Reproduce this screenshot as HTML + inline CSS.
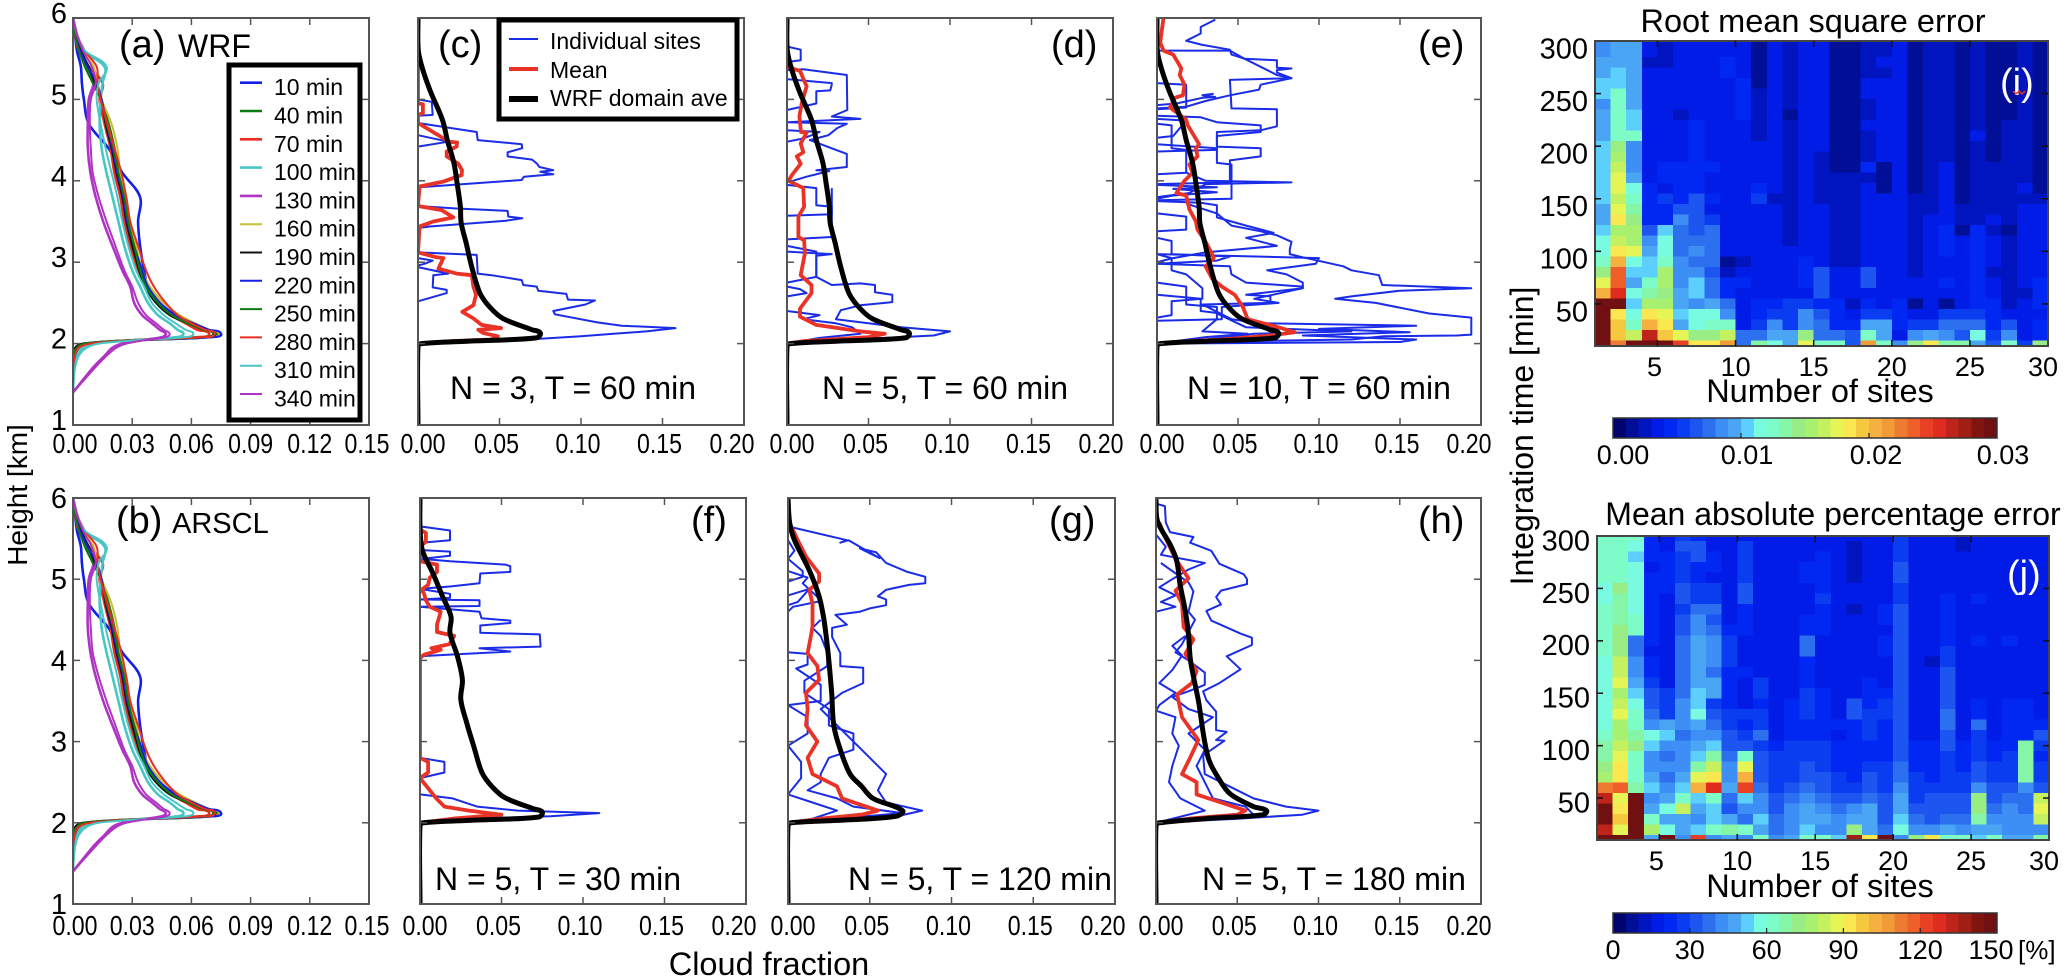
<!DOCTYPE html>
<html lang="en">
<head>
<meta charset="utf-8">
<title>Cloud fraction profiles and sampling error</title>
<style>
html,body{margin:0;padding:0;background:#fff;}
svg{display:block;font-family:"Liberation Sans",sans-serif;}
</style>
</head>
<body>
<svg id="fig" xmlns="http://www.w3.org/2000/svg" width="2067" height="978" viewBox="0 0 2067 978">
<rect x="0" y="0" width="2067" height="978" fill="#fff"/>
<defs id="defs"></defs>
<text transform="translate(27,495) rotate(-90)" text-anchor="middle" font-size="28">Height [km]</text>
<text x="769" y="975" text-anchor="middle" font-size="32.5">Cloud fraction</text>
<text transform="translate(1533,436) rotate(-90)" text-anchor="middle" font-size="32">Integration time [min]</text>
<text x="1813" y="32" text-anchor="middle" font-size="32.5">Root mean square error</text>
<text x="1833" y="525" text-anchor="middle" font-size="32">Mean absolute percentage error</text>
<text x="1820" y="402" text-anchor="middle" font-size="32.5">Number of sites</text>
<text x="1820" y="897" text-anchor="middle" font-size="32.5">Number of sites</text>
<g id="plots"></g>
</svg>
<script>
/* ---------- panel (a)/(b): time-series of domain-mean profiles ---------- */
const profileHeights=[6,5.8,5.6,5.4,5.2,5,4.7,4.4,4.1,3.8,3.5,3.2,2.9,2.7,2.5,2.35,2.25,2.17,2.12,2.08,2.04,2,1.95,1.85,1.7,1.4];
const profile10=[0,.001,.002,.004,.0045,.0055,.008,.018,.025,.034,.033,.034,.036,.038,.044,.052,.06,.068,.075,.07,.03,.006,.002,0,0,0];
const profile40=[0,.0015,.0045,.007,.011,.014,.018,.021,.023,.0255,.028,.031,.035,.038,.044,.051,.059,.067,.073,.069,.03,.006,.002,0,0,0];
const profile70=[0,.001,.003,.008,.015,.0135,.016,.019,.021,.024,.026,.029,.033,.037,.044,.05,.057,.063,.069,.064,.03,.008,.003,.001,0,0];
const profile100=[0,.002,.005,.016,.015,.014,.0135,.0145,.017,.02,.023,.026,.03,.034,.038,.043,.049,.053,.056,.053,.03,.01,.005,.002,.0005,0];
const profile130=[0,.002,.005,.01,.0105,.008,.0075,.0075,.0088,.0115,.0153,.02,.025,.029,.031,.035,.04,.044,.047,.045,.034,.025,.02,.016,.01,0];
const profile160=[0,.0015,.005,.0105,.012,.0145,.0195,.0225,.024,.027,.029,.032,.035,.039,.046,.054,.062,.069,.074,.069,.03,.006,.002,0,0,0];
const profile190=[0,.0015,.004,.008,.011,.0145,.0165,.0195,.022,.025,.027,.03,.0335,.0365,.042,.049,.058,.066,.072,.068,.03,.005,.001,0,0,0];
const profile220=[0,.0012,.0035,.0075,.012,.0145,.017,.02,.0225,.0255,.0275,.031,.035,.038,.044,.052,.061,.069,.075,.07,.032,.007,.003,.001,0,0];
const profile250=[0,.001,.003,.006,.01,.014,.017,.0205,.023,.026,.028,.031,.034,.037,.043,.05,.058,.066,.071,.066,.028,.006,.002,0,0,0];
const profile280=[0,.002,.006,.012,.0125,.014,.0175,.021,.0245,.027,.029,.033,.037,.041,.047,.053,.06,.067,.072,.066,.03,.009,.003,.001,0,0];
const profile310=[0,.002,.006,.017,.013,.012,.014,.0165,.0195,.0225,.025,.028,.032,.036,.04,.046,.052,.057,.061,.057,.032,.013,.007,.003,.001,0];
const profile340=[0,.002,.005,.0095,.0115,.009,.0085,.009,.01,.013,.017,.0215,.026,.03,.033,.037,.042,.046,.049,.047,.036,.027,.022,.017,.011,0];
const profileLabels=["10 min","40 min","70 min","100 min","130 min","160 min","190 min","220 min","250 min","280 min","310 min","340 min"];
const profileSeries=[profile10,profile40,profile70,profile100,profile130,profile160,profile190,profile220,profile250,profile280,profile310,profile340];

/* ---------- domain-average curves, [height, fraction] ---------- */
const domainT60=[[6,0],[5.6,.0002],[5.36,.003],[5.08,.008],[4.75,.015],[4.5,.018],[4.22,.022],[3.97,.024],[3.68,.026],[3.48,.0265],[3.24,.0295],[2.94,.033],[2.62,.038],[2.45,.044],[2.31,.052],[2.17,.07],[2.13,.075],[2.07,.0725],[2.03,.03],[2,.002],[1.97,0],[1,0]];
const domainT30=[[6,0],[5.65,0],[5.36,.0014],[5.07,.008],[4.79,.0138],[4.54,.019],[4.34,.0184],[4.05,.023],[3.76,.026],[3.52,.025],[3.24,.0285],[2.94,.033],[2.62,.038],[2.45,.044],[2.31,.052],[2.17,.07],[2.13,.075],[2.07,.0725],[2.03,.03],[2,.002],[1.97,0],[1,0]];
const domainT120=[[6,0],[5.7,.001],[5.48,.004],[5.11,.013],[4.79,.019],[4.5,.022],[4.09,.0245],[3.6,.0267],[3.2,.028],[2.9,.032],[2.6,.038],[2.45,.045],[2.3,.052],[2.15,.07],[2.08,.066],[2.03,.03],[2,.002],[1.97,0],[1,0]];
const domainT180=[[6,0],[5.76,.0004],[5.64,.0025],[5.43,.0086],[5.23,.0127],[4.94,.0148],[4.61,.018],[4.32,.02],[3.99,.0213],[3.51,.026],[2.81,.032],[2.5,.04],[2.35,.046],[2.2,.06],[2.15,.068],[2.1,.066],[2.05,.03],[2,.002],[1.97,0],[1,0]];

/* ---------- individual sites and site mean per panel, [height, fraction] ---------- */
const sitesC=[
[[6,0],[1,0]],
[[5,0],[4.97,.0084],[4.81,.009],[4.8,0]],
[[4.71,0],[4.6,.036],[4.5,.0366],[4.45,.0636],[4.4,.064],[4.35,.055],[4.3,.055],[4.26,.07],[4.21,.073],[4.17,.0745],[4.13,.083],[4.11,.075],[4.08,.083],[4.05,.065],[4.01,.0636],[3.92,.001]],
[[4.56,0],[4.48,.0186],[4.42,0]],
[[3.69,0],[3.66,.0237],[3.63,.055],[3.56,.0554],[3.54,.064],[3.51,.054],[3.43,.001],[3.44,.008],[3.42,0]],
[[3.12,0],[3.09,.036],[2.86,.0366],[2.84,.045],[2.78,.0636],[2.72,.0646],[2.7,.0728],[2.65,.0738],[2.61,.091],[2.54,.092],[2.53,.1086],[2.48,.1027],[2.4,.083],[2.36,.084],[2.26,.11],[2.22,.125],[2.19,.158],[2.15,.14],[2.12,.12],[2.09,.1],[2.04,.06],[2.02,.01],[2,0]],
[[3.05,0],[3.02,.009],[2.98,.004],[2.96,0]],
[[2.94,0],[2.86,.0186],[2.84,.0094],[2.69,.009],[2.66,.0176],[2.62,.0176],[2.52,0]]
];
const meanC=[[5.5,0],[4.95,0],[4.94,.003],[4.83,.003],[4.81,0],[4.71,0],[4.56,.0125],[4.48,.0186],[4.47,.024],[4.42,.0237],[4.36,.0176],[4.3,.0176],[4.21,.0247],[4.13,.027],[4.07,.0268],[3.99,.0155],[3.93,.001],[3.69,0],[3.64,.0145],[3.55,.0217],[3.5,.0094],[3.44,.001],[3.12,0],[3.06,.0115],[3.05,.0155],[2.92,.0125],[2.86,.0237],[2.84,.033],[2.7,.034],[2.6,.0356],[2.47,.034],[2.39,.0272],[2.31,.034],[2.23,.039],[2.19,.051],[2.17,.037],[2.13,.04],[2.09,.049],[2.05,.045],[2.03,.02],[2,.002]];

const sitesD=[
[[6,0],[1,0]],
[[5.65,0],[5.61,.0084],[5.48,.0084],[5.46,0]],
[[5.36,0],[5.37,.01],[5.3,.0367],[4.87,.037],[4.79,.0275],[4.76,.045],[4.72,.0],[4.7,.0367],[4.65,.031],[4.56,.0254],[4.5,.014],[4.33,.0367],[4.17,.0367],[4.13,.018],[4.12,.026],[4.05,.012],[3.99,.002]],
[[5.18,.0275],[5.11,.0265],[5.1,.018],[4.95,.018],[4.87,0]],
[[5.25,0],[5.2,.0275],[5.18,.0275]],
[[4.62,0],[4.6,.02],[4.52,.01],[4.48,0]],
[[3.91,.0275],[3.59,.0275],[3.57,0]],
[[3.95,0],[3.91,.018],[3.7,.018],[3.68,.0275],[3.31,.0275],[3.28,.0],[3.2,0],[3.13,.018],[2.82,.018],[2.72,.0275],[2.74,.045],[2.72,.054],[2.63,.054],[2.6,.0646],[2.51,.0646],[2.47,.045],[2.41,.033],[2.3,.03],[2.25,.05],[2.2,.07],[2.15,.1],[2.1,.09],[2.05,.04],[2,0]],
[[3.13,0],[3.1,.0275],[3.08,.018],[2.82,.018],[2.75,0]],
[[2.7,0],[2.67,.008],[2.62,.012],[2.58,0]],
[[2.4,0],[2.35,.02],[2.3,.01],[2.25,.03],[2.2,.04],[2.12,.045],[2.07,.02],[2,0]]
];
const meanD=[[5.45,0],[5.4,0],[5.35,.008],[5.16,.012],[4.95,.009],[4.79,.0076],[4.6,.0086],[4.59,.012],[4.46,.0084],[4.35,.01],[4.3,.006],[4.21,.0084],[4.07,.003],[4,.001],[3.91,.01],[3.68,.0105],[3.56,.007],[3.31,.007],[3.27,.0105],[3.11,.011],[2.84,.0084],[2.72,.015],[2.62,.015],[2.43,.008],[2.33,.008],[2.23,.018],[2.15,.045],[2.12,.06],[2.08,.05],[2.03,.01],[2,0]];

const sitesE=[
[[6,0],[1,0]],
[[5.98,.036],[5.89,.027],[5.81,.027],[5.72,.018],[5.67,.028],[5.61,.045],[5.55,.046],[5.5,.054],[5.48,.074],[5.39,.074],[5.38,.083],[5.36,.074],[5.33,.074],[5.26,.083],[5.24,.045],[4.89,.046],[4.88,.074],[4.67,.074],[4.62,.064],[4.6,.037],[4.42,.037],[4.4,.064],[4.3,.064],[4.25,.045],[4.1,.045],[3.98,.045],[3.96,0]],
[[5.6,0],[5.6,.045],[5.5,.054],[5.3,.074],[5.26,.083],[5.18,.064],[5.12,.063],[5.05,.045],[4.98,.03],[4.91,.018],[4.89,0]],
[[5.2,0],[5.18,.018],[4.9,.018],[4.88,0],[4.76,0],[4.74,.018],[4.55,.01],[4.53,0]],
[[5.07,.035],[5.05,.028],[5.03,.036],[5.02,.028],[4.95,.012],[4.93,0]],
[[4.8,0],[4.78,.027],[4.72,.037],[4.68,.064],[4.6,.064],[4.55,.037],[4.38,.037],[4.36,0]],
[[4.45,0],[4.4,.037],[4.22,.037],[4.2,.046],[4.12,.046],[3.78,.046],[3.76,0]],
[[4.1,.018],[4,.03],[3.98,.083],[3.96,.03],[3.85,.02],[3.8,0]],
[[4.7,0],[4.68,.009],[4.4,.009],[4.38,.018],[4.1,.018],[4.08,0]],
[[3.95,0],[3.92,.037],[3.9,.01],[3.86,.037],[3.82,.01],[3.78,0]],
[[3.75,0],[3.73,.027],[3.7,.037],[3.55,.037],[3.45,.055],[3.36,.072],[3.3,.055],[3.2,.074],[3.12,.03],[3.05,.01],[3,0]],
[[3.72,.018],[3.6,.037],[3.45,.046],[3.38,.064],[3.33,.074],[3.25,.083],[3.16,.082],[3.1,.082],[3.06,.09],[2.95,.115],[2.9,.12],[2.84,.137],[2.72,.139],[2.68,.194],[2.65,.15],[2.58,.12],[2.55,.11],[2.5,.135],[2.37,.168],[2.32,.194],[2.11,.194],[2.1,.185],[2.09,.14],[2.05,.12],[2.03,.05],[2,0]],
[[3.6,0],[3.56,.018],[3.4,.018],[3.38,.0],[3.3,0],[3.26,.009],[3.1,.009],[3.07,.045],[3.02,.037],[2.98,0]],
[[3.1,0],[3.05,.1],[2.98,.098],[2.9,.068],[2.85,.08],[2.75,.09],[2.68,.09],[2.55,.06],[2.5,.075],[2.45,.04],[2.3,.04],[2.28,0]],
[[3.1,0],[3.05,.009],[2.9,.009],[2.85,.018],[2.68,.028],[2.55,.028],[2.52,.009],[2.35,.009],[2.32,0]],
[[2.98,0],[2.95,.045],[2.85,.046],[2.75,.055],[2.7,.09],[2.68,.09],[2.6,.055],[2.58,.07],[2.5,.07],[2.48,.028],[2.3,.046],[2.25,.065],[2.22,.16],[2.18,.1],[2.14,.156],[2.1,.09],[2.05,.16],[2.02,.15],[2,0]],
[[2.75,0],[2.7,.018],[2.48,.018],[2.45,.037],[2.3,.037],[2.15,.028],[2.12,.056],[2.08,.03],[2,0]],
[[2.6,0],[2.55,.027],[2.4,.027],[2.38,.036],[2.2,.055],[2.15,.12],[2.12,.06],[2.05,.03],[2,0]]
];
const meanE=[[6,.004],[5.7,.002],[5.6,.004],[5.55,.01],[5.45,.013],[5.38,.015],[5.3,.014],[5.18,.017],[5.05,.016],[5.02,.011],[4.9,.008],[4.75,.018],[4.68,.019],[4.45,.026],[4.4,.024],[4.3,.025],[4.2,.02],[4.1,.022],[4,.017],[3.85,.012],[3.82,.018],[3.65,.02],[3.5,.024],[3.4,.025],[3.25,.03],[3.1,.034],[3.05,.035],[2.95,.03],[2.8,.034],[2.7,.04],[2.6,.048],[2.45,.053],[2.3,.056],[2.2,.075],[2.14,.085],[2.1,.07],[2.05,.04],[2.02,.01],[2,0]];

const sitesF=[
[[6,0],[1,0]],
[[5.65,0],[5.6,.0184],[5.48,.0184],[5.45,.001],[5.36,0],[5.34,.0184],[5.29,.0184],[5.25,.001],[5.22,.0184],[5.18,.0524],[5.16,.0554],[5.09,.0554],[5.07,.037],[4.95,.0365],[4.91,.0184],[4.88,0],[4.82,.0184],[4.77,.0184],[4.75,0],[4.74,.0365],[4.67,.0365],[4.66,0],[4.6,.0365],[4.52,.0377],[4.49,.0554],[4.46,.0554],[4.43,.037],[4.34,.037],[4.32,.0735],[4.17,.074],[4.15,.0365],[4.11,.0554],[4.07,.017],[4.05,0]],
[[2.8,0],[2.75,.015],[2.62,.015],[2.55,0]],
[[2.35,0],[2.3,.02],[2.2,.035],[2.15,.06],[2.12,.11],[2.08,.08],[2.05,.03],[2,0]]
];
const meanF=[[5.6,.001],[5.57,.0036],[5.46,.0036],[5.4,0],[5.22,0],[5.18,.0104],[5.09,.0104],[5.02,.006],[4.93,.005],[4.87,.001],[4.82,.0025],[4.74,.0036],[4.66,.006],[4.6,.0127],[4.44,.0104],[4.35,.0104],[4.3,.021],[4.2,.018],[4.15,.007],[4.13,.0127],[4.07,.0025],[4.03,0],[2.8,0],[2.75,.005],[2.62,.005],[2.55,0],[2.3,.01],[2.2,.015],[2.15,.03],[2.1,.05],[2.05,.02],[2,0]];

const sitesG=[
[[6,0],[1,0]],
[[5.65,0],[5.48,.036],[5.45,.032],[5.48,.037],[5.26,.056],[5.38,.044],[5.33,.054],[5.2,.06],[5.09,.073],[5.03,.084],[4.95,.084],[4.93,.074],[4.87,.06],[4.79,.055],[4.75,.06],[4.68,.06],[4.64,.05],[4.6,.044],[4.56,.029],[4.44,.036],[4.4,.027],[4.29,.027],[4.09,.032],[3.93,.032],[3.91,.046],[3.72,.046],[3.6,.033],[3.4,.02],[3,.04],[2.8,.05],[2.6,.06],[2.4,.055],[2.25,.06],[2.15,.082],[2.05,.06],[2,0]],
[[5.48,0],[5.35,.004],[5.25,0],[5.1,.009],[5.03,.009],[4.97,0],[4.8,0],[4.88,.013],[4.72,.006],[4.68,0]],
[[5.1,0],[5.02,.012],[4.95,.009],[4.8,.017],[4.73,.02],[4.66,.003],[4.6,0]],
[[4.1,0],[4.08,.012],[3.95,.012],[3.9,.005],[3.7,.02],[3.5,.02],[3.45,0]],
[[4.5,.02],[4.4,.015],[4.3,.02],[4.1,.024],[3.93,.024],[3.75,.01],[3.6,.01],[3.4,.025],[3.2,.025],[3.1,.04],[2.9,.04],[2.8,.025],[2.6,.02],[2.5,.02],[2.4,.012],[2.3,.03],[2.2,.04],[2.12,.07],[2.05,.03],[2,0]],
[[3.45,0],[3.3,.012],[3.1,.012],[2.95,0],[2.75,.008],[2.55,.008],[2.35,0],[2.25,.015],[2.15,.03],[2.05,.015],[2,0]]
];
const meanG=[[5.65,.002],[5.48,.006],[5.28,.011],[5.07,.019],[4.97,.019],[4.87,.013],[4.7,.015],[4.42,.015],[4.3,.014],[4.09,.012],[3.93,.018],[3.76,.019],[3.6,.011],[3.4,.012],[3.2,.011],[3,.018],[2.8,.012],[2.6,.015],[2.45,.03],[2.3,.033],[2.15,.055],[2.1,.045],[2.05,.02],[2,0]];

const sitesH=[
[[6,0],[1,0]],
[[5.93,0],[5.9,.0055],[5.7,.006],[5.58,.0086],[5.52,.023],[5.45,.021],[5.35,.034],[5.19,.039],[5.06,.054],[5,.056],[4.94,.056],[4.86,.04],[4.78,.037],[4.69,.04],[4.61,.031],[4.49,.034],[4.33,.052],[4.28,.059],[4.19,.059],[4.05,.0435],[3.89,.052],[3.72,.039],[3.62,.029],[3.51,.031],[3.37,.037],[3.14,.037],[3.12,.0435],[3.02,.037],[3.01,.042],[2.83,.029],[2.6,.03],[2.4,.05],[2.3,.06],[2.2,.08],[2.15,.1],[2.1,.09],[2.05,.05],[2,0]],
[[5.55,0],[5.4,.006],[5.3,.003],[5.2,.03],[5.12,.02],[5.0,.01],[4.9,.002],[4.8,.012],[4.72,.003],[4.66,.012],[4.6,0]],
[[5.2,.003],[5.1,.01],[4.96,.02],[4.85,.023],[4.6,.02],[4.5,.024],[4.35,.02],[4.2,.016],[4.1,.012],[4,.02],[3.85,.03],[3.7,.03],[3.62,.02],[3.55,.01],[3.4,.02],[3.3,.035],[3.1,.02],[2.9,.03],[2.7,.025],[2.5,.03],[2.3,.035],[2.2,.055],[2.1,.06],[2.05,.02],[2,0]],
[[4.3,.018],[4.18,.01],[4.06,.016],[3.88,.01],[3.72,.002],[3.6,.012],[3.45,.002],[3.38,.0],[3.3,.012],[3.1,.01],[2.95,.014],[2.7,.01],[2.5,.008],[2.3,.015],[2.15,.03],[2.05,.01],[2,0]]
];
const meanH=[[5.7,.002],[5.5,.006],[5.25,.012],[5.01,.02],[4.86,.012],[4.7,.016],[4.41,.017],[4.26,.023],[4.08,.018],[3.87,.025],[3.72,.022],[3.58,.013],[3.3,.016],[3.02,.026],[2.8,.021],[2.6,.016],[2.5,.025],[2.35,.025],[2.25,.04],[2.15,.055],[2.1,.05],[2.05,.02],[2,0]];

/* ---------- heatmaps: one array per site column, top row (300 min) first ---------- */
const rmseUnit=0.001;
const rmseC0=[8,8,9,9,10,10,8,9,9,9,10,10,10,10,10,10,9,9,10,11,11,12,14,17,20,29,29,29,29,29];
const rmseC1=[9,9,9,10,10,12,12,12,12,12,14,15,16,17,17,16,17,18,15,16,18,20,23,23,25,29,18,19,19,22];
const rmseC2=[9,9,9,9,9,9,9,10,10,12,8,8,8,9,11,12,13,14,15,15,17,11,10,9,11,10,11,12,16,29];
const rmseC3=[3,3,2,3,3,3,3,3,3,3,3,3,3,3,4,4,4,4,6,8,9,10,10,12,13,15,18,20,26,29];
const rmseC4=[2,2,2,3,3,3,3,3,3,3,3,3,4,4,3,5,4,4,10,11,11,12,15,15,14,15,17,18,19,29];
const rmseC5=[3,3,3,3,3,3,3,2,3,3,3,3,4,4,4,4,6,8,7,7,7,8,8,8,9,9,10,9,17,24];
const rmseC6=[3,3,3,3,3,3,3,3,4,4,4,4,4,4,4,6,6,6,6,7,8,7,8,10,10,8,11,11,14,18];
const rmseC7=[3,3,3,3,3,3,3,3,3,3,3,3,4,3,3,4,3,5,7,7,7,7,6,7,7,9,11,12,14,18];
const rmseC8=[3,3,4,4,3,3,3,3,3,3,3,3,3,3,3,3,3,3,3,3,3,1,2,4,4,7,8,12,16,21];
const rmseC9=[3,3,3,3,4,4,4,4,3,3,3,3,3,3,3,3,3,3,3,3,3,2,3,4,3,3,3,3,7,7];
const rmseC10=[1,1,1,1,1,2,2,2,2,2,3,3,3,3,4,5,3,3,3,3,3,3,3,3,3,4,4,5,7,13];
const rmseC11=[3,3,3,3,3,3,3,3,3,3,3,3,3,3,3,2,3,3,3,3,3,3,3,3,3,4,5,8,9,11];
const rmseC12=[2,2,2,2,2,2,2,1,2,2,2,2,2,2,2,2,2,2,2,2,3,3,3,3,3,5,5,5,9,9];
const rmseC13=[3,3,3,3,3,3,3,3,3,3,3,3,3,3,3,3,3,3,3,3,3,4,4,4,3,5,8,8,14,17];
const rmseC14=[3,3,3,3,3,3,3,3,3,3,3,2,2,2,2,2,3,3,3,3,3,3,6,6,6,4,6,7,7,12];
const rmseC15=[1,1,1,1,1,1,1,1,1,1,1,1,1,2,2,2,2,2,2,2,2,2,3,3,3,4,4,4,7,12];
const rmseC16=[1,1,1,1,1,1,1,1,1,1,1,1,1,2,2,2,2,2,2,2,2,2,3,3,3,2,3,4,6,6];
const rmseC17=[2,2,2,2,3,3,2,2,3,2,2,2,4,2,3,3,3,3,3,3,3,3,6,6,3,4,5,9,12,21];
const rmseC18=[2,2,3,2,3,3,3,3,3,3,3,3,1,1,1,3,3,3,3,3,3,3,3,3,3,3,5,9,9,12];
const rmseC19=[3,3,3,3,3,3,3,3,3,3,3,3,3,3,3,3,3,3,3,3,3,3,3,3,3,4,4,4,3,8];
const rmseC20=[1,1,1,1,1,1,1,1,1,1,1,1,1,1,1,2,2,2,2,2,2,2,2,3,3,1,3,5,8,14];
const rmseC21=[2,2,2,2,2,2,2,2,2,2,2,2,2,2,2,2,2,3,3,3,3,3,3,3,3,3,3,5,9,18];
const rmseC22=[2,2,2,2,2,2,2,2,2,2,2,2,3,3,3,3,3,3,4,4,4,3,3,4,3,1,5,7,8,13];
const rmseC23=[1,1,1,1,1,1,1,1,1,1,1,1,1,1,1,1,2,2,1,3,3,3,3,3,3,3,5,7,6,13];
const rmseC24=[2,2,2,2,2,2,2,2,2,3,2,2,2,2,2,2,2,2,4,4,4,4,4,4,4,4,5,7,11,9];
const rmseC25=[1,1,1,1,1,1,1,1,1,1,1,1,2,2,2,2,2,3,2,3,3,3,2,3,3,4,4,4,5,6];
const rmseC26=[1,1,1,1,1,1,1,1,2,2,2,2,2,2,2,2,2,2,1,2,2,2,2,2,2,2,3,6,8,12];
const rmseC27=[2,2,2,2,2,2,2,2,2,2,2,2,2,2,3,2,3,3,3,3,3,3,3,3,2,3,3,3,3,5];
const rmseC28=[1,1,1,1,1,1,1,1,1,1,1,1,1,1,1,2,3,3,3,3,3,3,3,4,4,4,3,4,4,14];
const rmseColumns=[rmseC0,rmseC1,rmseC2,rmseC3,rmseC4,rmseC5,rmseC6,rmseC7,rmseC8,rmseC9,rmseC10,rmseC11,rmseC12,rmseC13,rmseC14,rmseC15,rmseC16,rmseC17,rmseC18,rmseC19,rmseC20,rmseC21,rmseC22,rmseC23,rmseC24,rmseC25,rmseC26,rmseC27,rmseC28];

const mapeUnit=5;
const mapeC0=[12,12,12,12,12,11,11,12,12,12,12,12,11,11,11,11,11,11,11,12,13,13,14,15,22,26,29,29,26,29];
const mapeC1=[12,12,12,12,12,14,13,13,13,14,14,14,16,16,17,15,16,17,15,15,16,17,18,18,23,17,18,19,17,29];
const mapeC2=[12,11,10,11,11,11,11,11,12,12,7,7,8,8,9,10,11,12,12,13,14,12,12,12,13,29,29,29,29,29];
const mapeC3=[4,4,4,3,4,4,4,4,4,4,4,3,4,4,5,6,6,7,8,11,10,8,8,9,10,8,9,12,15,9];
const mapeC4=[3,3,4,4,4,4,3,3,3,3,3,3,3,3,3,5,5,5,9,10,8,7,8,7,8,9,11,9,11,29];
const mapeC5=[5,6,5,5,5,6,6,5,6,6,7,7,7,7,7,7,8,8,8,7,8,8,8,9,10,12,16,9,9,8];
const mapeC6=[4,6,6,4,4,5,5,7,8,8,9,9,9,9,9,10,10,11,9,8,9,10,13,17,20,10,9,8,10,24];
const mapeC7=[3,3,4,4,3,5,5,7,6,7,8,8,8,7,9,9,5,6,7,8,10,13,16,18,25,12,10,10,12,8];
const mapeC8=[3,3,3,3,3,3,3,3,3,4,5,5,5,4,4,4,4,5,5,6,6,7,8,8,9,7,6,9,13,9];
const mapeC9=[3,5,5,5,5,6,6,4,4,4,3,3,3,4,3,3,3,5,4,5,6,12,17,20,24,10,8,7,12,8];
const mapeC10=[3,3,3,3,3,3,3,3,3,3,3,3,3,3,5,5,4,5,5,7,5,6,6,6,7,8,8,10,9,12];
const mapeC11=[3,3,3,3,3,3,3,3,3,3,3,3,3,3,3,3,3,3,3,3,4,5,5,5,5,6,6,7,7,8];
const mapeC12=[3,3,3,3,3,3,3,3,3,3,3,3,3,3,3,3,4,4,4,4,5,5,5,5,6,7,8,8,8,9];
const mapeC13=[3,3,3,4,4,3,3,3,4,4,7,7,4,4,4,5,5,5,4,4,5,5,6,6,7,8,9,9,10,12];
const mapeC14=[3,3,4,4,4,4,5,4,4,4,3,3,3,3,3,4,4,4,4,4,5,5,5,6,6,7,8,9,8,12];
const mapeC15=[3,3,3,3,3,3,3,3,3,3,3,3,3,3,3,3,3,3,4,3,4,4,4,5,5,6,7,8,8,10];
const mapeC16=[3,2,2,2,2,3,3,2,3,3,3,3,3,3,3,3,6,6,4,4,4,4,4,4,5,6,8,9,14,27];
const mapeC17=[3,3,3,3,3,3,3,3,3,3,3,3,3,3,4,4,4,5,5,5,4,4,5,6,6,7,9,9,9,18];
const mapeC18=[3,3,3,3,3,3,3,4,4,3,4,4,3,3,3,4,5,5,4,4,4,4,5,5,5,6,6,6,7,29];
const mapeC19=[5,5,5,6,6,5,5,6,6,6,6,6,6,6,6,6,6,6,6,6,6,6,7,7,8,9,9,10,11,8];
const mapeC20=[3,3,3,3,3,3,3,3,3,3,3,3,3,3,3,3,3,3,3,3,4,4,4,5,5,5,6,7,8,14];
const mapeC21=[3,3,3,3,3,3,3,3,3,3,3,3,2,3,3,3,3,3,3,3,4,4,4,4,5,6,6,6,8,18];
const mapeC22=[3,3,3,3,3,3,4,4,4,4,4,5,5,6,6,6,6,7,7,6,6,5,5,5,5,6,6,7,9,12];
const mapeC23=[2,2,3,3,3,3,3,3,3,3,3,3,3,3,3,3,3,3,3,3,4,4,4,5,5,6,6,7,8,12];
const mapeC24=[3,3,3,3,3,3,4,3,3,3,4,3,3,3,3,3,4,4,7,5,5,5,6,6,8,14,14,13,9,10];
const mapeC25=[3,3,3,3,3,3,3,3,3,3,3,3,3,3,3,3,3,3,3,3,4,4,5,5,6,6,7,8,9,12];
const mapeC26=[3,3,3,3,3,3,3,3,3,3,4,3,3,3,3,3,4,4,4,4,4,5,5,5,6,7,8,8,8,9];
const mapeC27=[3,3,3,3,3,3,3,3,3,3,3,3,3,3,3,3,4,4,4,4,13,13,13,13,8,7,7,8,8,9];
const mapeC28=[3,3,3,3,3,3,3,3,3,3,3,3,3,3,3,3,3,3,4,6,5,4,5,5,6,16,17,16,8,13];
const mapeColumns=[mapeC0,mapeC1,mapeC2,mapeC3,mapeC4,mapeC5,mapeC6,mapeC7,mapeC8,mapeC9,mapeC10,mapeC11,mapeC12,mapeC13,mapeC14,mapeC15,mapeC16,mapeC17,mapeC18,mapeC19,mapeC20,mapeC21,mapeC22,mapeC23,mapeC24,mapeC25,mapeC26,mapeC27,mapeC28];

/* ---------- tick labels ---------- */
const heightTicks=[6,5,4,3,2,1];
const fractionTicksWide=[0,0.05,0.1,0.15,0.2];
const fractionTicksNarrow=[0,0.03,0.06,0.09,0.12,0.15];
const siteTicks=[5,10,15,20,25,30];
const timeTicks=[50,100,150,200,250,300];
const rmseBarTicks=[0,0.01,0.02,0.03];
const mapeBarTicks=[0,30,60,90,120,150];
const rowTimes=[300,290,280,270,260,250,240,230,220,210,200,190,180,170,160,150,140,130,120,110,100,90,80,70,60,50,40,30,20,10];

const jetColors=["#00056e","#000f96","#0014c0","#001ce6","#0028f2","#0a3cf0","#1c55f0","#2c70f0","#3d8ef5","#4aa5f5","#5ccffc","#78fbe0","#7dfcc8","#85f5a8","#98ee85","#a8f070","#c5f060","#e5f555","#fbe850","#f5c840","#f5b040","#f09a38","#ee7c30","#ee5f2a","#e84025","#e02c1f","#be241a","#a01f14","#801510","#701010"];
const seriesColors=["#1420e6","#0f7a12","#ea2d20","#48c6c6","#b034c4","#c6c030","#111111","#1420e6","#0f7a12","#ea2d20","#48c6c6","#b034c4"];

const NS="http://www.w3.org/2000/svg";
const plots=document.getElementById("plots");
const defs=document.getElementById("defs");
function mk(tag,attrs,parent){
  const el=document.createElementNS(NS,tag);
  for(const k in attrs){el.setAttribute(k,attrs[k]);}
  (parent||plots).appendChild(el);
  return el;
}
function fmt(v,d){return v.toFixed(d);}
/* smooth curve through screen points, tangents limited by segment length so it never overshoots far */
function smoothPath(ps){
  let d="M"+fmt(ps[0][0],1)+" "+fmt(ps[0][1],1);
  const dir=(a,b)=>{const dx=b[0]-a[0],dy=b[1]-a[1],n=Math.hypot(dx,dy)||1;return [dx/n,dy/n];};
  for(let i=0;i<ps.length-1;i++){
    const p0=ps[Math.max(0,i-1)],p1=ps[i],p2=ps[i+1],p3=ps[Math.min(ps.length-1,i+2)];
    const len=Math.hypot(p2[0]-p1[0],p2[1]-p1[1])/3;
    const t1=dir(p0,p2),t2=dir(p1,p3);
    d+=" C"+fmt(p1[0]+t1[0]*len,1)+" "+fmt(p1[1]+t1[1]*len,1)+" "+fmt(p2[0]-t2[0]*len,1)+" "+fmt(p2[1]-t2[1]*len,1)+" "+fmt(p2[0],1)+" "+fmt(p2[1],1);
  }
  return d;
}

function drawProfilePanel(p){
  const g=mk("g",{});
  
  
  const sx=c=>p.x0+(c/p.xMax)*(p.x1-p.x0);
  const sy=h=>p.y1-((h-1)/5)*(p.y1-p.y0);
  const clip=mk("clipPath",{id:"clip-"+p.id},defs);
  mk("rect",{x:p.x0-1,y:p.y0,width:p.x1-p.x0+1,height:p.y1-p.y0},clip);
  const marks=mk("g",{"clip-path":"url(#clip-"+p.id+")"},g);
  const trace=(pts,color,w,nm)=>{
    const l=mk("polyline",{points:pts.map(q=>fmt(sx(q[1]),1)+","+fmt(sy(q[0]),1)).join(" "),fill:"none",stroke:color,"stroke-width":w,"stroke-linejoin":"round"},marks);
    
    
  };
  const curve=(pts,color,w,nm)=>{
    const l=mk("path",{d:smoothPath(pts.map(q=>[sx(q[1]),sy(q[0])])),fill:"none",stroke:color,"stroke-width":w,"stroke-linejoin":"round"},marks);
    
    
  };
  if(p.profiles){
    p.profiles.forEach((vals,i)=>{
      curve(vals.map((v,j)=>[profileHeights[j],v]),seriesColors[i],i<5?2.6:2,"profile-"+profileLabels[i].replace(" ","-"));
    });
  }
  if(p.sites){
    p.sites.forEach((s,i)=>{trace(s,"#1a2ce8",2,"site-line-"+(i+1));});
    trace(p.mean,"#ea3327",3.8,"mean-line");
    curve(p.domain,"#000",5,"wrf-domain-average-line");
  }
  const frame=mk("rect",{x:p.x0,y:p.y0,width:p.x1-p.x0,height:p.y1-p.y0,fill:"none",stroke:"#555","stroke-width":2},g);
  
  
  p.xTicks.forEach((t,i)=>{
    const x=sx(t);
    if(i>0&&i<p.xTicks.length-1){
      mk("line",{x1:x,x2:x,y1:p.y0,y2:p.y0+7,stroke:"#555","stroke-width":1.5},g);
      mk("line",{x1:x,x2:x,y1:p.y1,y2:p.y1-7,stroke:"#555","stroke-width":1.5},g);
    }
    const shift=i===0?p.shiftFirst:(i===p.xTicks.length-1?p.shiftLast:p.shiftMid);
    const lab=mk("text",{x:x+shift,y:p.labelY,"text-anchor":"middle","font-size":28,textLength:45,lengthAdjust:"spacingAndGlyphs"},g);
    lab.textContent=fmt(t,2);
    
    
  });
  heightTicks.forEach((h,i)=>{
    const y=sy(h);
    if(i>0&&i<heightTicks.length-1){
      mk("line",{x1:p.x0,x2:p.x0+7,y1:y,y2:y,stroke:"#555","stroke-width":1.5},g);
      mk("line",{x1:p.x1,x2:p.x1-7,y1:y,y2:y,stroke:"#555","stroke-width":1.5},g);
    }
    if(p.yLabels){
      const lab=mk("text",{x:67,y:y+p.yLabelDy,"text-anchor":"end","font-size":29},g);
      lab.textContent=h;
      
      
    }
  });
  p.notes.forEach(n=>{
    const t=mk("text",{x:n.x,y:n.y,"font-size":n.size,"text-anchor":n.anchor||"start"},g);
    t.textContent=n.text;
    
    
  });
}

const wide=(id,name,x0,x1,y0,y1,labelY,sites,mean,domain,notes)=>({id,name,x0,x1,y0,y1,xMax:0.2,xTicks:fractionTicksWide,labelY,shiftFirst:5,shiftMid:-3,shiftLast:-12,sites,mean,domain,notes});

drawProfilePanel({id:"a",name:"panel-a-wrf",x0:73,x1:369,y0:18,y1:425,xMax:0.15,xTicks:fractionTicksNarrow,labelY:453,shiftFirst:2,shiftMid:0,shiftLast:-2,profiles:profileSeries,yLabels:true,yLabelDy:5,notes:[{x:119,y:57,size:38,text:"(a)",name:"panel-a-letter"},{x:178,y:57,size:32,text:"WRF",name:"panel-a-title"}]});
drawProfilePanel({id:"b",name:"panel-b-arscl",x0:73,x1:369,y0:498,y1:904,xMax:0.15,xTicks:fractionTicksNarrow,labelY:935,shiftFirst:2,shiftMid:0,shiftLast:-2,profiles:profileSeries,yLabels:true,yLabelDy:10,notes:[{x:116,y:533,size:38,text:"(b)",name:"panel-b-letter"},{x:172,y:533,size:29,text:"ARSCL",name:"panel-b-title"}]});
drawProfilePanel(wide("c","panel-c",418,744,18,425,453,sitesC,meanC,domainT60,[{x:438,y:57,size:38,text:"(c)",name:"panel-c-letter"},{x:450,y:399,size:32,text:"N = 3, T = 60 min",name:"panel-c-annotation"}]));
drawProfilePanel(wide("d","panel-d",787,1113,18,425,453,sitesD,meanD,domainT60,[{x:1051,y:57,size:38,text:"(d)",name:"panel-d-letter"},{x:822,y:399,size:32,text:"N = 5, T = 60 min",name:"panel-d-annotation"}]));
drawProfilePanel(wide("e","panel-e",1157,1481,18,425,453,sitesE,meanE,domainT60,[{x:1418,y:57,size:38,text:"(e)",name:"panel-e-letter"},{x:1187,y:399,size:32,text:"N = 10, T = 60 min",name:"panel-e-annotation"}]));
drawProfilePanel(wide("f","panel-f",420,746,498,904,935,sitesF,meanF,domainT30,[{x:691,y:533,size:38,text:"(f)",name:"panel-f-letter"},{x:435,y:890,size:32,text:"N = 5, T = 30 min",name:"panel-f-annotation"}]));
drawProfilePanel(wide("g","panel-g",788,1115,498,904,935,sitesG,meanG,domainT120,[{x:1049,y:533,size:38,text:"(g)",name:"panel-g-letter"},{x:848,y:890,size:32,text:"N = 5, T = 120 min",name:"panel-g-annotation"}]));
drawProfilePanel(wide("h","panel-h",1156,1481,498,904,935,sitesH,meanH,domainT180,[{x:1418,y:533,size:38,text:"(h)",name:"panel-h-letter"},{x:1202,y:890,size:32,text:"N = 5, T = 180 min",name:"panel-h-annotation"}]));

/* legend of panel (a) */
const legA=mk("g",{});


mk("rect",{x:229,y:65,width:131,height:355,fill:"#fff",stroke:"#000","stroke-width":5},legA);
profileLabels.forEach((lab,i)=>{
  const y=82.7+i*28.3;
  const sw=mk("line",{x1:240,x2:262,y1:y,y2:y,stroke:seriesColors[i],"stroke-width":i<5?2.6:2},legA);
  
  
  const t=mk("text",{x:274,y:y+12.5,"font-size":23},legA);
  t.textContent=lab;
  
  
});

/* legend of panel (c) */
const legC=mk("g",{});


mk("rect",{x:499,y:20,width:238,height:99,fill:"#fff",stroke:"#000","stroke-width":5},legC);
[["Individual sites","#1a2ce8",2,39,49],["Mean","#ea3327",4,69,78],["WRF domain ave","#000",6,99,106]].forEach(r=>{
  const sw=mk("line",{x1:509,x2:538,y1:r[3],y2:r[3],stroke:r[1],"stroke-width":r[2]},legC);
  
  
  const t=mk("text",{x:550,y:r[4],"font-size":23},legC);
  t.textContent=r[0];
  
  
});

function drawHeatmap(h){
  const g=mk("g",{});
  
  
  const sx=s=>h.x0+(s-1)/29*(h.x1-h.x0);
  const sy=v=>h.y0+(300-v)/290*(h.y1-h.y0);
  const cells=mk("g",{"shape-rendering":"crispEdges"},g);
  h.columns.forEach((col,c)=>{
    rowTimes.forEach((t,r)=>{
      const v=col[r];
      if(v===undefined){return;}
      const top=sy(Math.min(t+5,300)),bot=sy(Math.max(t-5,10));
      const lvl=Math.max(0,Math.min(29,Math.floor(v*h.unit/h.vMax*30+1e-6)));
      const x=sx(c+1);
      const cell=mk("rect",{x:fmt(x,2),y:fmt(top,2),width:fmt(sx(c+2)-x+.6,2),height:fmt(bot-top+.6,2),fill:jetColors[lvl]},cells);
      
      
    });
  });
  const frame=mk("rect",{x:h.x0,y:h.y0,width:h.x1-h.x0,height:h.y1-h.y0,fill:"none",stroke:"#444","stroke-width":2},g);
  
  
  siteTicks.forEach(s=>{
    const x=sx(s);
    if(s<30){
      mk("line",{x1:x,x2:x,y1:h.y0,y2:h.y0+6,stroke:"#111","stroke-width":1.5},g);
      mk("line",{x1:x,x2:x,y1:h.y1,y2:h.y1-6,stroke:"#111","stroke-width":1.5},g);
    }
    const t=mk("text",{x:x-(s===30?5:(s===5?3:0)),y:h.y1+30,"text-anchor":"middle","font-size":27},g);
    t.textContent=s;
    
    
  });
  timeTicks.forEach(v=>{
    const y=sy(v);
    if(v<300){
      mk("line",{x1:h.x0,x2:h.x0+6,y1:y,y2:y,stroke:"#111","stroke-width":1.5},g);
      mk("line",{x1:h.x1,x2:h.x1-6,y1:y,y2:y,stroke:"#111","stroke-width":1.5},g);
    }
    const t=mk("text",{x:h.x0-7,y:y+h.labelDy+10.4,"text-anchor":"end","font-size":29},g);
    t.textContent=v;
    
    
  });
  const letter=mk("text",{x:h.letterX,y:h.letterY,"font-size":38,fill:"#fff"},g);
  letter.textContent=h.letter;
  
  

  /* colorbar */
  const cb=mk("g",{"shape-rendering":"crispEdges"},g);
  
  
  const bx=v=>1613+v/h.vMax*384;
  jetColors.forEach((col,i)=>{
    const seg=mk("rect",{x:fmt(bx(i*h.vMax/30),2),y:h.barY,width:13.4,height:20,fill:col},cb);
    
    
  });
  mk("rect",{x:1613,y:h.barY,width:384,height:20,fill:"none",stroke:"#333","stroke-width":1.5},g);
  h.barTicks.forEach((v,i)=>{
    const x=bx(v);
    if(i>0&&i<h.barTicks.length-1){
      mk("line",{x1:x,x2:x,y1:h.barY+20,y2:h.barY+15,stroke:"#222","stroke-width":1.2},g);
    }
    const t=mk("text",{x:x+h.barShift(i),y:h.barY+46,"text-anchor":"middle","font-size":27},g);
    t.textContent=h.barFmt(v);
    
    
  });
}
drawHeatmap({name:"rmse-heatmap",columns:rmseColumns,unit:rmseUnit,vMax:0.03,x0:1595,x1:2048,y0:41,y1:346,labelDy:7,letter:"(i)",letterX:2000,letterY:95,barY:418,barTicks:rmseBarTicks,barShift:i=>[10,6,7,6][i],barFmt:v=>v.toFixed(2)});
drawHeatmap({name:"mape-heatmap",columns:mapeColumns,unit:mapeUnit,vMax:150,x0:1597,x1:2049,y0:536,y1:840,labelDy:4,letter:"(j)",letterX:2007,letterY:587,barY:913,barTicks:mapeBarTicks,barShift:i=>[0,0,0,0,0,-6][i],barFmt:v=>String(v)});

const pct=mk("text",{x:2018,y:959,"font-size":26});
pct.textContent="[%]";


const squiggle=mk("polyline",{points:"2013,91 2016,94 2019,91 2022,94 2025,91",fill:"none",stroke:"#ea3327","stroke-width":1.5});


</script>
</body>
</html>
